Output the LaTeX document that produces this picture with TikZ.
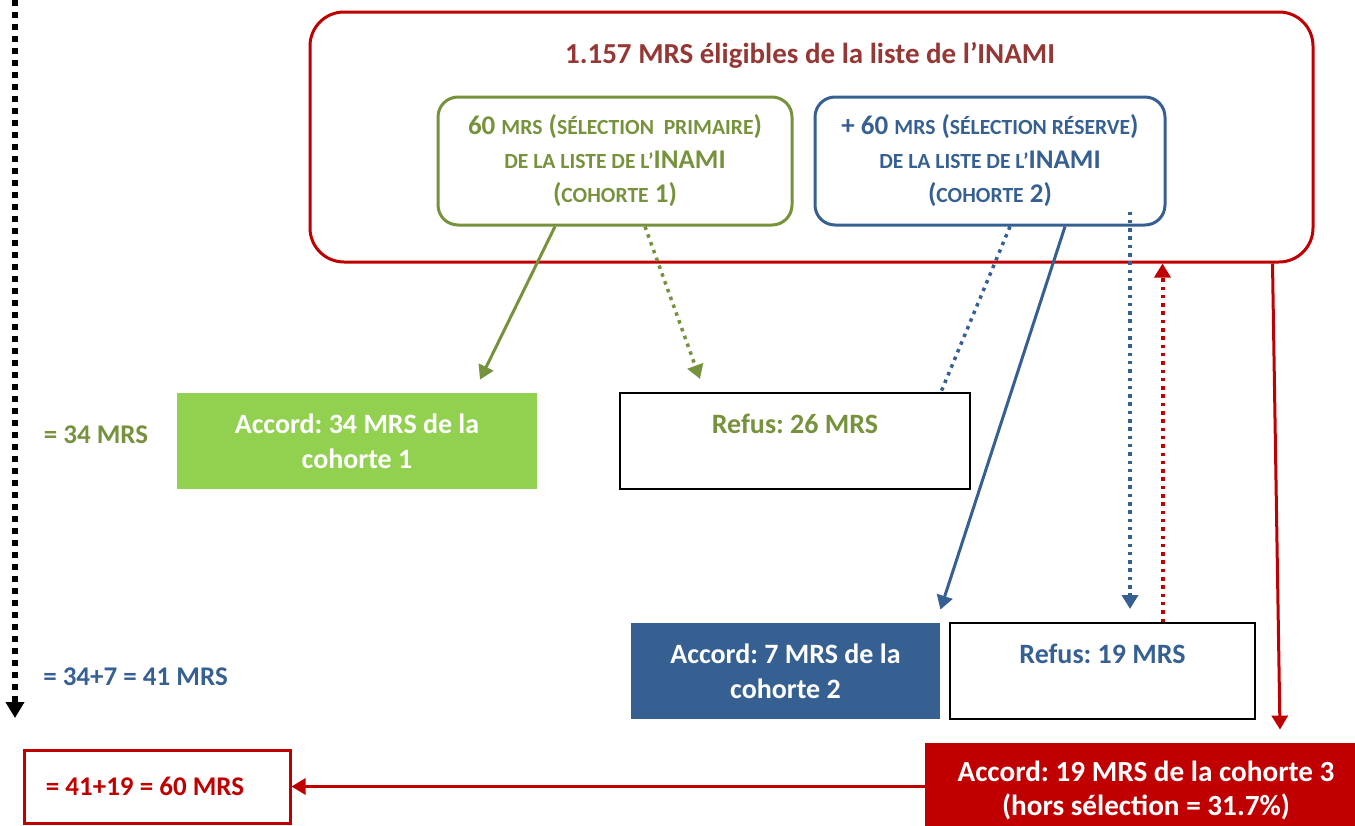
\documentclass[tikz,border=0pt]{standalone}
\usepackage{fontspec}
\setmainfont{Carlito}
\usetikzlibrary{arrows.meta,calc}
\frenchspacing

\definecolor{vert}{HTML}{76923C}
\definecolor{vertclair}{HTML}{92D050}
\definecolor{bleu}{HTML}{376092}
\definecolor{rouge}{HTML}{C00000}
\definecolor{rougetitre}{HTML}{953735}

% small capitals as in the original slide
\newcommand{\pc}[1]{{\fontsize{10.8}{12}\selectfont #1}}

\begin{document}
\begin{tikzpicture}[x=0.5pt,y=-0.5pt,
    every node/.style={font=\fontsize{13.5}{17}\selectfont\bfseries, inner sep=0pt, align=center},
    fleche/.style={-{Triangle[width=8pt,length=7pt]}},
    pointille/.style={line width=1.75pt, dash pattern=on 1.75pt off 2.4pt},
    boite/.style={minimum height=48pt, font=\fontsize{14}{17.5}\selectfont\bfseries}]

            \useasboundingbox (0,0) rectangle (1355,825);

            % List of the INAMI
            \node[draw=rouge, line width=1.5pt, rounded corners=17pt, minimum width=501.5pt, minimum height=125pt] (liste) at (811.5,137) {};
            \node[text=rougetitre, font=\fontsize{14.5}{17}\selectfont\bfseries] (titre) at (810,55) {1.157 MRS éligibles de la liste de l’INAMI};

            % Primary and reserve selections
            \node[draw=vert, text=vert, line width=1.5pt, rounded corners=10pt, minimum width=177pt, minimum height=64pt] (cohorte1) at (615,161)
                {60 \pc{MRS} (\pc{SÉLECTION~~PRIMAIRE})\\ \pc{DE LA LISTE DE L’}INAMI\\ (\pc{COHORTE} 1)};
            \node[draw=bleu, text=bleu, line width=1.5pt, rounded corners=10pt, minimum width=175pt, minimum height=64pt] (cohorte2) at (990,161)
                {+ 60 \pc{MRS} (\pc{SÉLECTION RÉSERVE})\\ \pc{DE LA LISTE DE L’}INAMI\\ (\pc{COHORTE} 2)};

            % Answers of cohort 1
            \node[boite, fill=vertclair, text=white, minimum width=180pt] (accord1) at (357,441) {Accord: 34 MRS de la\\ cohorte 1};
            \node[boite, draw=black, line width=1pt, text=vert, minimum width=175pt] (refus1) at (795,441) {Refus: 26 MRS\\ ~};
            \node[text=vert] (somme1) at (96,435) {= 34 MRS};

            % Answers of cohort 2
            \node[boite, fill=bleu, text=white, minimum width=154.5pt] (accord2) at (785.5,671) {Accord: 7 MRS de la\\ cohorte 2};
            \node[boite, draw=black, line width=1pt, text=bleu, minimum width=152.5pt] (refus2) at (1102.5,671) {Refus: 19 MRS\\ ~};
            \node[text=bleu] (somme2) at (135.5,677) {= 34+7 = 41 MRS};

            % Cohort 3 and total
            \node[fill=rouge, text=white, minimum width=221pt, minimum height=47pt, font=\fontsize{14.6}{17}\selectfont\bfseries] (accord3) at (1146,790) {Accord: 19 MRS de la cohorte 3\\ (hors sélection = 31.7\%)};
            \node[draw=rouge, line width=1.5pt, text=rouge, minimum width=133pt, minimum height=36.5pt] (total) at (157,786.5) {= 41+19 = 60 MRS\kern12pt};

            % Arrows of cohort 1
            \draw[fleche, vert, line width=1.5pt] ($(cohorte1.south)+(-60,0)$) -- ($(accord1.north)+(123,-13)$);
            \draw[fleche, pointille, vert] ($(cohorte1.south)+(30,0)$) -- ($(refus1.north)+(-95,-13)$);

            % Arrows of cohort 2
            \draw[pointille, bleu] ($(cohorte2.south)+(20,0)$) -- ($(refus1.north east)+(-30,0)$);
            \draw[fleche, bleu, line width=1.5pt] ($(cohorte2.south)+(75,0)$) -- ($(accord2.north east)+(0,-13)$);
            \draw[fleche, pointille, bleu] ($(cohorte2.south)+(140,-15)$) -- ($(refus2.north)+(27.5,-13)$);

            % Refusals go back to the list, cohort 3
            \draw[fleche, pointille, rouge, line width=2pt] ($(refus2.north)+(60,0)$) -- ($(liste.south)+(351,0)$);
            \draw[fleche, rouge, line width=1.5pt] ($(liste.south)+(461,0)$) -- ($(accord3.north)+(134,-13)$);
            \draw[fleche, rouge, line width=1.5pt] (accord3.west |- total.east) -- (total.east);

            % Running total
            \coordinate (haut) at (15,0);
            \coordinate (bas) at (15,718);
            \draw[-{Triangle[width=9pt,length=8pt]}, line width=3pt, dash pattern=on 3pt off 3pt] (haut) -- (bas);

\end{tikzpicture}
\end{document}
